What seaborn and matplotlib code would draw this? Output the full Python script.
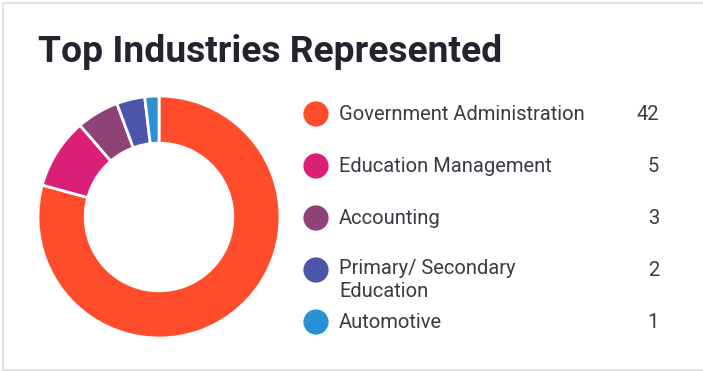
import matplotlib
matplotlib.use("Agg")
import matplotlib.pyplot as plt
import seaborn as sns
import pandas as pd
from matplotlib.patches import Rectangle

# data
industries = ["Government Administration", "Education Management", "Accounting",
              "Primary/ Secondary\nEducation", "Automotive"]
counts = [42, 5, 3, 2, 1]
colors = ["#FF4C2B", "#DC1F76", "#8F4277", "#4B55AA", "#2A91D5"]
title = "Top Industries Represented"

sns.set_theme(style="white")
plt.rcParams['font.family'] = ['Roboto', 'DejaVu Sans']

W, H = 703, 371
fig = plt.figure(figsize=(W / 100, H / 100), dpi=100)
fig.patch.set_facecolor("white")

# full-figure axes in pixel coordinates for card, title, legend
bg = fig.add_axes([0, 0, 1, 1])
bg.axis("off")
bg.add_patch(Rectangle((3, 3), W + 10, 367, fill=False, edgecolor="#e2e2e2", lw=1.5))
bg.text(38, 62, title, fontsize=26.8, fontweight="bold", color="#24242f", va="baseline")

# legend: dots via seaborn, labels and values as text
leg = pd.DataFrame({"industry": industries, "count": counts,
                    "x": 316, "y": [114 + 52 * i for i in range(len(counts))]})
sns.scatterplot(data=leg, x="x", y="y", hue="industry", palette=colors, s=330,
                linewidth=0, legend=False, ax=bg)
for _, r in leg.iterrows():
    label = r["industry"]
    if "\n" in label:
        bg.text(339, r["y"] - 11.5, label, fontsize=14.5, color="#3a3a45", va="top",
                linespacing=1.3)
    else:
        bg.text(339, r["y"], label, fontsize=14.5, color="#3a3a45", va="center")
    bg.text(659, r["y"], str(r["count"]), fontsize=14.5, color="#3a3a45",
            va="center", ha="right")
bg.set_xlim(0, W)
bg.set_ylim(H, 0)

# donut
cx, cy, rad = 159, 217, 121
ax = fig.add_axes([(cx - rad) / W, (H - cy - rad) / H, 2 * rad / W, 2 * rad / H])
ax.pie(counts, colors=colors, startangle=90, counterclock=False,
       wedgeprops=dict(width=0.39, edgecolor="white", linewidth=2))
ax.set_xlim(-1, 1)
ax.set_ylim(-1, 1)
ax.set_aspect("equal")
ax.axis("off")

fig.savefig("out.png", dpi=100)
